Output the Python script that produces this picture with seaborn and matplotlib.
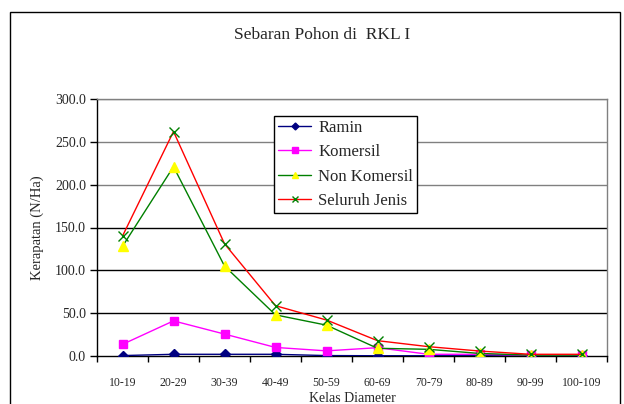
import numpy as np
import pandas as pd
import seaborn as sns
import matplotlib.pyplot as plt
from matplotlib.patches import Rectangle

kelas = ["10-19", "20-29", "30-39", "40-49", "50-59",
         "60-69", "70-79", "80-89", "90-99", "100-109"]
ramin = [0.5, 2.0, 2.0, 2.0, 0.5, 0.3, 0.3, 0.3, 0.3, 0.3]
komersil = [13.6, 41.0, 25.6, 10.0, 6.0, 9.7, 2.0, 2.0, 1.0, 1.0]
non_komersil = [128.0, 221.0, 105.0, 48.0, 36.0, 9.0, 7.8, 3.0, 1.0, 1.0]
seluruh = [140.0, 262.0, 131.0, 58.7, 42.0, 17.9, 10.9, 5.8, 2.0, 2.0]
y_ticks = [0, 50, 100, 150, 200, 250, 300]

sns.set_style("white")
plt.rcParams['font.family'] = ['Liberation Serif', 'DejaVu Serif']

fig = plt.figure(figsize=(6.24, 4.04), dpi=100)
ax = fig.add_axes([97 / 624, 1 - 356 / 404, 510 / 624, 257 / 404])

pos = np.arange(len(kelas))
series = [
    ("Ramin", ramin, "#000080", "D", "#000080", "#000080", 5),
    ("Komersil", komersil, "#FF00FF", "s", "#FF00FF", "#FF00FF", 6),
    ("Non Komersil", non_komersil, "#008000", "^", "#FFFF00", "#FFFF00", 7),
    ("Seluruh Jenis", seluruh, "#FF0000", "x", "#008000", "#008000", 7),
]

# garis grid dulu supaya di bawah garis data
for t in y_ticks[1:]:
    ax.axhline(t, color="#000000" if t < 200 else "#808080", lw=1.0, zorder=0)

for name, vals, lc, mk, mfc, mec, ms in series:
    df = pd.DataFrame({"x": pos, "y": vals})
    sns.lineplot(data=df, x="x", y="y", ax=ax, color=lc, marker=mk,
                 markerfacecolor=mfc, markeredgecolor=mec, markersize=ms,
                 markeredgewidth=1.0, lw=1.0, label=name, sort=False, zorder=3)

ax.set_xlim(-0.5, len(kelas) - 0.5)
ax.set_ylim(0, 300)
ax.set_yticks(y_ticks)
ax.set_yticklabels([f"{t:.1f}" for t in y_ticks], fontsize=10)
ax.set_xticks(pos)
ax.set_xticklabels(kelas, fontsize=8.5)
ax.set_xticks(np.arange(len(kelas) + 1) - 0.5, minor=True)
ax.tick_params(axis="x", which="major", length=0, pad=15)
ax.tick_params(axis="x", which="minor", length=4, width=1, color="black", direction="out", bottom=True)
ax.tick_params(axis="y", length=5, width=1, color="black", direction="out", left=True, pad=3)

for s in ["top", "right"]:
    ax.spines[s].set_color("#808080")
    ax.spines[s].set_linewidth(1.0)
for s in ["left", "bottom"]:
    ax.spines[s].set_color("black")
    ax.spines[s].set_linewidth(1.0)

ax.set_xlabel("Kelas Diameter", fontsize=10, labelpad=2)
ax.set_ylabel("Kerapatan (N/Ha)", fontsize=10.5, labelpad=8)
fig.text(0.5 + 10 / 624, 1 - 35 / 404, "Sebaran Pohon di  RKL I", ha="center", va="center", fontsize=12.5)

leg = ax.legend(loc="upper left", bbox_to_anchor=(0.347, 0.935), fontsize=12,
                frameon=True, fancybox=False, framealpha=1, edgecolor="black",
                borderpad=0.25, labelspacing=0.5, handlelength=2.0, handletextpad=0.4,
                markerscale=0.7, borderaxespad=0)
leg.get_frame().set_linewidth(1.0)

fig.patches.append(Rectangle((10 / 624, -0.05), 610 / 624, 1.05 - 12 / 404,
                             transform=fig.transFigure, fill=False,
                             edgecolor="black", lw=1.0))

fig.savefig("out.png", dpi=100)
